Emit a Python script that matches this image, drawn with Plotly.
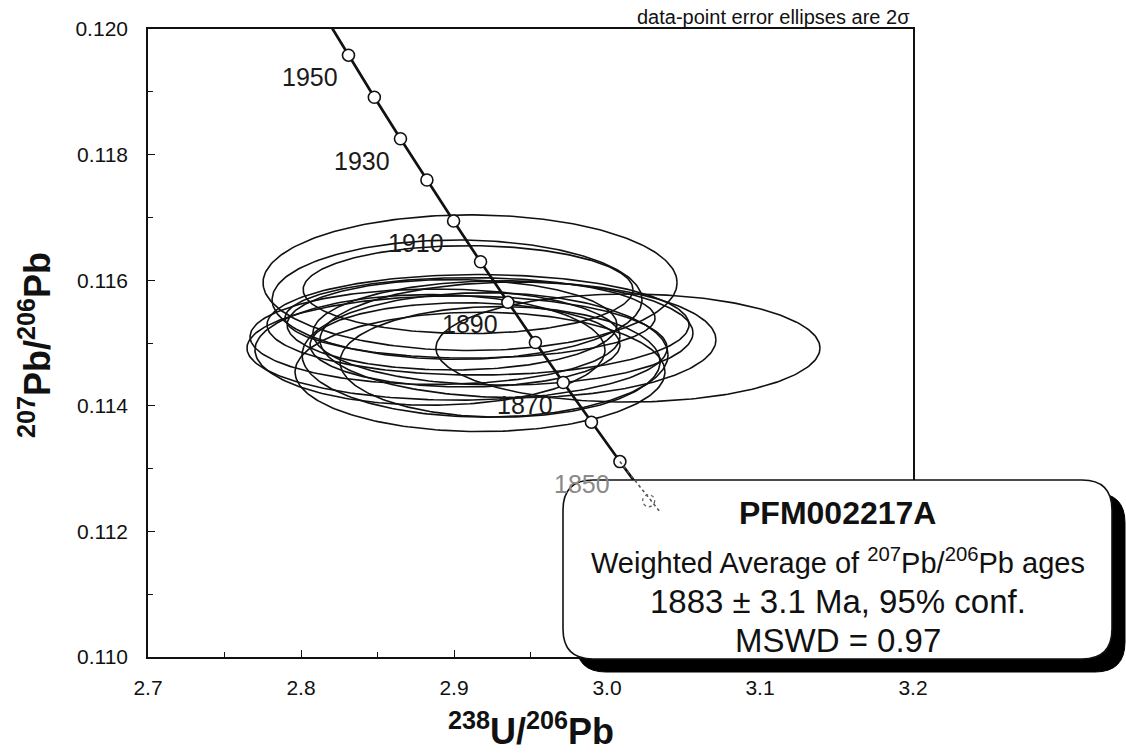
import numpy as np
import plotly.graph_objects as go

# ---------------- data ----------------
# Concordia (Tera-Wasserburg) nodes, ages in Ma
concordia_age = [1960, 1950, 1940, 1930, 1920, 1910, 1900, 1890, 1880, 1870, 1860, 1850, 1840, 1836]
concordia_u238_pb206 = [2.81429, 2.83103, 2.84793, 2.86502, 2.88229, 2.89973, 2.91736, 2.93520,
                        2.95321, 2.97142, 2.98982, 3.00843, 3.02723, 3.03483]
concordia_pb207_pb206 = [0.120255, 0.119583, 0.118914, 0.118253, 0.117596, 0.116942, 0.116293,
                         0.115648, 0.115008, 0.114371, 0.113739, 0.113112, 0.112488, 0.112305]
marked_ages = [1950, 1940, 1930, 1920, 1910, 1900, 1890, 1880, 1870, 1860, 1850, 1840]
labelled_ages = [1950, 1930, 1910, 1890, 1870, 1850]

# Zircon spot analyses: ratios with 2-sigma errors and error correlation
spot_u238_pb206 = [2.9105, 2.9020, 2.9092, 2.8876, 2.9020, 2.9157, 2.9170, 2.9320,
                   2.9418, 2.9301, 3.0137, 2.8987, 2.9072, 2.9203, 2.9105, 2.8843]
spot_u238_pb206_err = [0.1353, 0.1209, 0.1078, 0.1209, 0.1373, 0.1379, 0.1209, 0.1242,
                       0.1294, 0.1046, 0.1255, 0.1078, 0.1013, 0.1196, 0.1209, 0.1144]
spot_pb207_pb206 = [0.11596, 0.11569, 0.11585, 0.11510, 0.11492, 0.11529, 0.11454, 0.11516,
                    0.11505, 0.11470, 0.11492, 0.11529, 0.11497, 0.11481, 0.11540, 0.11489]
spot_pb207_pb206_err = [0.00108, 0.00095, 0.00070, 0.00076, 0.00083, 0.00080, 0.00095, 0.00083,
                        0.00092, 0.00088, 0.00086, 0.00072, 0.00067, 0.00099, 0.00064, 0.00088]
spot_rho = [0.0] * len(spot_u238_pb206)

sample_name = "PFM002217A"
mean_age = 1883
mean_age_err = 3.1
mswd = 0.97

x_ticks = [2.7, 2.8, 2.9, 3.0, 3.1, 3.2]
y_ticks = [0.110, 0.112, 0.114, 0.116, 0.118, 0.120]

# ---------------- layout constants ----------------
W, H = 1126, 754
L, R, T, B = 148, 213, 29, 97
PW, PH = W - L - R, H - T - B
FONT = "Liberation Sans, Arial, Helvetica, sans-serif"
INK = "#111111"


def px_x(px):
    return (px - L) / PW


def px_y(py):
    return (H - B - py) / PH


def rounded_rect(x0, y0, x1, y1, r):
    """Rounded rectangle path in paper units from pixel corners."""
    X, Y = px_x, px_y
    p = [f"M{X(x0 + r)},{Y(y0)}", f"L{X(x1 - r)},{Y(y0)}",
         f"Q{X(x1)},{Y(y0)} {X(x1)},{Y(y0 + r)}",
         f"L{X(x1)},{Y(y1 - r)}",
         f"Q{X(x1)},{Y(y1)} {X(x1 - r)},{Y(y1)}",
         f"L{X(x0 + r)},{Y(y1)}",
         f"Q{X(x0)},{Y(y1)} {X(x0)},{Y(y1 - r)}",
         f"L{X(x0)},{Y(y0 + r)}",
         f"Q{X(x0)},{Y(y0)} {X(x0 + r)},{Y(y0)}", "Z"]
    return " ".join(p)


fig = go.Figure()

# error ellipses
t = np.linspace(0, 2 * np.pi, 240)
for cx, sx, cy, sy, rho in zip(spot_u238_pb206, spot_u238_pb206_err,
                               spot_pb207_pb206, spot_pb207_pb206_err, spot_rho):
    ex = cx + sx * np.cos(t)
    ey = cy + sy * (rho * np.cos(t) + np.sqrt(1 - rho ** 2) * np.sin(t))
    fig.add_trace(go.Scatter(x=ex, y=ey, mode="lines",
                             line=dict(color=INK, width=1.6),
                             hoverinfo="skip", showlegend=False))

# concordia curve
fig.add_trace(go.Scatter(x=concordia_u238_pb206, y=concordia_pb207_pb206, mode="lines",
                         line=dict(color=INK, width=2.7),
                         hoverinfo="skip", showlegend=False))
age_index = {a: i for i, a in enumerate(concordia_age)}
mx = [concordia_u238_pb206[age_index[a]] for a in marked_ages]
my = [concordia_pb207_pb206[age_index[a]] for a in marked_ages]
fig.add_trace(go.Scatter(x=mx, y=my, mode="markers",
                         marker=dict(size=12, color="white",
                                     line=dict(color=INK, width=1.6)),
                         hoverinfo="skip", showlegend=False))

annotations = []
for a in labelled_ages:
    i = age_index[a]
    annotations.append(dict(
        x=concordia_u238_pb206[i], y=concordia_pb207_pb206[i], xref="x", yref="y",
        text=str(a), showarrow=False, xshift=-38, yshift=-22,
        xanchor="center", yanchor="middle",
        font=dict(family=FONT, size=25, color="#8a8a8a" if a == 1850 else "#1a1a1a")))

# result box with drop shadow
bx0, by0, bx1, by1 = 563, 480, 1112, 659
shapes = [
    dict(type="path", xref="paper", yref="paper", layer="above",
         path=rounded_rect(bx0 + 13, by0 + 13, bx1 + 13, by1 + 13, 30),
         fillcolor="#000000", line=dict(color="#000000", width=1)),
    dict(type="path", xref="paper", yref="paper", layer="above",
         path=rounded_rect(bx0, by0, bx1, by1, 30),
         fillcolor="white", line=dict(color=INK, width=1.6)),
]
# concordia continuing under the box
i50, i40, iend = age_index[1850], age_index[1840], age_index[1836]
shapes.append(dict(type="line", xref="x", yref="y", layer="above",
                   x0=concordia_u238_pb206[i50], y0=concordia_pb207_pb206[i50],
                   x1=concordia_u238_pb206[iend], y1=concordia_pb207_pb206[iend],
                   line=dict(color="#555555", width=1.6, dash="dot")))
shapes.append(dict(type="circle", xref="x", yref="y", layer="above",
                   xsizemode="pixel", ysizemode="pixel",
                   xanchor=concordia_u238_pb206[i40], yanchor=concordia_pb207_pb206[i40],
                   x0=-6, x1=6, y0=-6, y1=6,
                   line=dict(color="#666666", width=1.3, dash="dot")))

cxp = px_x((bx0 + bx1) / 2)
box_text = dict(xref="paper", yref="paper", showarrow=False, xanchor="center", yanchor="middle")
annotations += [
    dict(x=cxp, y=px_y(513), text=f"<b>{sample_name}</b>",
         font=dict(family=FONT, size=32, color=INK), **box_text),
    dict(x=cxp, y=px_y(561), text="Weighted Average of <sup>207</sup>Pb/<sup>206</sup>Pb ages",
         font=dict(family=FONT, size=29, color=INK), **box_text),
    dict(x=cxp, y=px_y(601), text=f"{mean_age} ± {mean_age_err} Ma, 95% conf.",
         font=dict(family=FONT, size=33, color=INK), **box_text),
    dict(x=cxp, y=px_y(640), text=f"MSWD = {mswd}",
         font=dict(family=FONT, size=33, color=INK), **box_text),
    dict(x=px_x(912), y=px_y(17), xref="paper", yref="paper", showarrow=False,
         xanchor="right", yanchor="middle", text="data-point error ellipses are 2σ",
         font=dict(family=FONT, size=20, color=INK)),
    dict(x=px_x((L + W - R) / 2), y=px_y(729), xref="paper", yref="paper", showarrow=False,
         xanchor="center", yanchor="middle",
         text="<b><sup>238</sup>U/<sup>206</sup>Pb</b>",
         font=dict(family=FONT, size=36, color=INK)),
    dict(x=px_x(35), y=px_y(345), xref="paper", yref="paper", showarrow=False,
         xanchor="center", yanchor="middle",
         textangle=-90, text="<b><sup>207</sup>Pb/<sup>206</sup>Pb</b>",
         font=dict(family=FONT, size=36, color=INK)),
]

axis_common = dict(showgrid=False, zeroline=False, showline=True, mirror=True,
                   linecolor=INK, linewidth=1.6, ticks="inside",
                   tickcolor=INK, tickwidth=1.4,
                   tickfont=dict(family=FONT, size=21, color=INK))

fig.update_layout(
    width=W, height=H, autosize=False,
    margin=dict(l=L, r=R, t=T, b=B),
    paper_bgcolor="white", plot_bgcolor="white",
    xaxis=dict(range=[2.7, 3.2], tickvals=x_ticks, ticktext=[f"{v:.1f}" for v in x_ticks],
               ticklen=7, ticklabelstandoff=11,
               minor=dict(ticks="inside", dtick=0.05, ticklen=5, tickcolor=INK, tickwidth=1.4),
               **axis_common),
    yaxis=dict(range=[0.110, 0.120], tickvals=y_ticks, ticktext=[f"{v:.3f}" for v in y_ticks],
               ticklen=7, ticklabelstandoff=14,
               minor=dict(ticks="inside", dtick=0.001, ticklen=5, tickcolor=INK, tickwidth=1.4),
               **axis_common),
    shapes=shapes,
    annotations=annotations,
)

fig.write_html("out.html")
